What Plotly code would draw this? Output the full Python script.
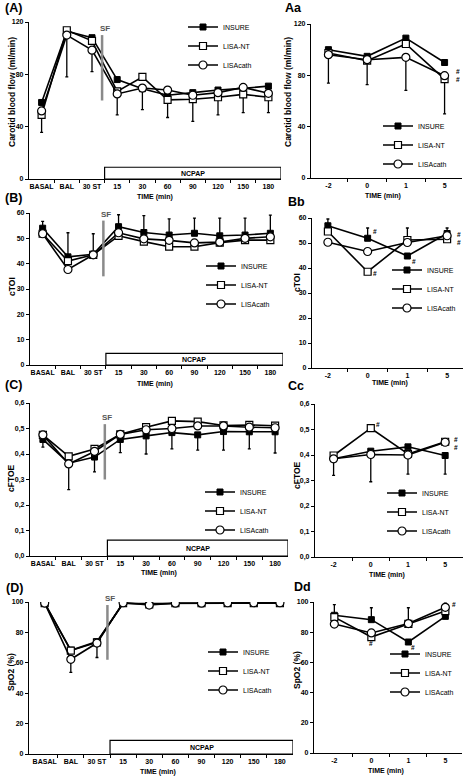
import plotly.graph_objects as go

# ---------------- data ----------------
left_cats = ["BASAL", "BAL", "30 ST", "15", "30", "60", "90", "120", "150", "180"]
right_cats = ["-2", "0", "1", "5"]
series_names = ["INSURE", "LISA-NT", "LISAcath"]

# (A) Carotid blood flow (ml/min)
a_insure = [58.5, 113, 108, 76, 69, 64, 66, 68, 69.3, 71]
a_lisant = [49, 113.7, 105.6, 67, 78, 60.5, 61, 62.5, 64.7, 62.5]
a_lisacath = [52, 110, 98.5, 65, 69.5, 68, 64, 66, 70, 65.5]
a_err_low = [35.6, 78, 82, 49, 53, 47, 44, 49, 50.7, 50.7]

# (Aa)
aa_insure = [100, 94.8, 109, 90]
aa_lisant = [97.4, 91.4, 104.4, 77]
aa_lisacath = [96.1, 92.2, 94, 79.7]
aa_err_low = [74, 72.7, 68.3, 50]

# (B) cTOI
b_insure = [54, 42.7, 43.7, 54.6, 52.3, 51.3, 52, 51, 51.3, 52]
b_lisant = [51.8, 41, 43.5, 51, 48.7, 46.7, 46.7, 48.3, 49.3, 49.3]
b_lisacath = [51.8, 37.7, 43.5, 52.2, 49.8, 49.2, 48.2, 48.5, 50, 50.6]
b_err_high = [56.7, 52.2, 51.8, 59.3, 59, 57.7, 58, 58, 58, 59.2]

# (Bb)
bb_insure = [56.9, 51.9, 44.8, 53.8]
bb_lisant = [54.6, 38.5, 51.2, 51.5]
bb_lisacath = [50.3, 46.6, 50.2, 52.9]
bb_err_high = [59.6, 56, 56, 56]

# (C) cFTOE
c_insure = [0.457, 0.364, 0.388, 0.457, 0.471, 0.484, 0.475, 0.488, 0.487, 0.487]
c_lisant = [0.475, 0.391, 0.42, 0.477, 0.505, 0.53, 0.527, 0.512, 0.514, 0.511]
c_lisacath = [0.475, 0.361, 0.41, 0.477, 0.495, 0.50, 0.51, 0.51, 0.505, 0.503]
c_err_low = [0.427, 0.26, 0.33, 0.405, 0.40, 0.42, 0.415, 0.415, 0.42, 0.404]

# (Cc)
cc_insure = [0.385, 0.415, 0.432, 0.398]
cc_lisant = [0.398, 0.505, 0.404, 0.452]
cc_lisacath = [0.385, 0.402, 0.40, 0.45]
cc_err_low = [0.32, 0.295, 0.325, 0.325]

# (D) SpO2 (%)
d_insure = [99.3, 68.3, 74, 99, 99, 99.2, 99.2, 99.2, 99.2, 99.2]
d_lisant = [99.3, 68, 73.5, 99.3, 98.5, 99.2, 99.2, 99.2, 99.2, 99.2]
d_lisacath = [99.3, 62.3, 73, 99.5, 98, 99.2, 99.2, 99.5, 99.5, 99.5]
d_err_low = [99.3, 53.7, 63.5, 98, 96, 99.2, 99.2, 99.2, 99.2, 99.2]

# (Dd)
dd_insure = [91.2, 88.3, 73.5, 90.5]
dd_lisant = [90, 76.8, 85.5, 94]
dd_lisacath = [85.4, 79.5, 85.7, 96.5]
dd_err_high = [98.2, 96.2, 96.2, 99.3]

# ---------------- layout helpers ----------------
W, H = 468, 776
FONT = "Liberation Sans"


def fx(p):
    return p / W


def fy(p):
    return 1 - p / H


styles = [
    dict(symbol="square", size=6, color="black", line=dict(color="black", width=1)),
    dict(symbol="square", size=7, color="white", line=dict(color="black", width=1.2)),
    dict(symbol="circle", size=8, color="white", line=dict(color="black", width=1.2)),
]

panels = [
    dict(n=1, cats=left_cats, data=[a_insure, a_lisant, a_lisacath], err=a_err_low, down=True,
         xd=(29, 281), yd=(22, 179), yr=(0, 120), dt=40, fmt="d", xr=(-0.5, 9.5),
         ytitle="Carotid blood flow (ml/min)", yt=(12, 92), tt=(155, 197),
         leg=(183, 46), lab="(A)", labp=(13, 8), box=9, sf=(60, 110)),
    dict(n=2, cats=right_cats, data=[aa_insure, aa_lisant, aa_lisacath], err=aa_err_low, down=True,
         xd=(311, 462), yd=(24, 178), yr=(0, 120), dt=40, fmt="d", xr=(-0.45, 3.45),
         ytitle="Carotid blood flow (ml/min)", yt=(288, 92), tt=(383, 196),
         leg=(378, 145), lab="Aa", labp=(293, 8), box=None),
    dict(n=3, cats=left_cats, data=[b_insure, b_lisant, b_lisacath], err=b_err_high, down=False,
         xd=(30, 283), yd=(213, 365), yr=(0, 60), dt=10, fmt="d", xr=(-0.5, 9.5),
         ytitle="cTOI", yt=(12, 287), tt=(155, 384),
         leg=(201, 285), lab="(B)", labp=(13, 198), box=4.6, sf=(35, 57)),
    dict(n=4, cats=right_cats, data=[bb_insure, bb_lisant, bb_lisacath], err=bb_err_high, down=False,
         xd=(312, 463), yd=(218, 368), yr=(0, 60), dt=10, fmt="d", xr=(-0.4, 3.4),
         ytitle="cTOI", yt=(297, 283), tt=(390, 383),
         leg=(387, 289), lab="Bb", labp=(296, 202), box=None),
    dict(n=5, cats=left_cats, data=[c_insure, c_lisant, c_lisacath], err=c_err_low, down=True,
         xd=(30, 288), yd=(403, 556), yr=(0, 0.6), dt=0.1, fmt=".1f", xr=(-0.5, 9.5),
         ytitle="cFTOE", yt=(11, 478), tt=(159, 573),
         leg=(200, 511), lab="(C)", labp=(13, 385), box=0.062, sf=(0.30, 0.517)),
    dict(n=6, cats=right_cats, data=[cc_insure, cc_lisant, cc_lisacath], err=cc_err_low, down=True,
         xd=(315, 463), yd=(404, 557), yr=(0, 0.6), dt=0.1, fmt=".1f", xr=(-0.5, 3.48),
         ytitle="cFTOE", yt=(297, 475), tt=(387, 575),
         leg=(382, 512), lab="Cc", labp=(296, 386), box=None),
    dict(n=7, cats=left_cats, data=[d_insure, d_lisant, d_lisacath], err=d_err_low, down=True,
         xd=(29, 293), yd=(602, 754), yr=(0, 100), dt=20, fmt="d", xr=(-0.6, 9.5),
         ytitle="SpO2 (%)", yt=(11, 672), tt=(158, 772),
         leg=(203, 671), lab="(D)", labp=(14, 588), box=9, sf=(62, 98)),
    dict(n=8, cats=right_cats, data=[dd_insure, dd_lisant, dd_lisacath], err=dd_err_high, down=False,
         xd=(314, 462), yd=(602, 753), yr=(0, 100), dt=20, fmt="d", xr=(-0.55, 3.45),
         ytitle="SpO2 (%)", yt=(297, 670), tt=(386, 771),
         leg=(385, 673), lab="Dd", labp=(302, 587), box=None),
]

# significance marks: (panel, category index, y, text, xshift, yshift)
hash_marks = [
    (2, 3, 80, "#<br>#", 13, 0),
    (4, 1, 54.5, "#", 7, 0), (4, 1, 38, "#", 7, 0), (4, 2, 42.5, "#", 7, 0),
    (4, 3, 52, "#<br>#", 12, 0),
    (6, 1, 0.52, "#", 7, 0), (6, 3, 0.445, "#<br>#", 11, 0),
    (8, 1, 72.5, "#", 0, 0), (8, 2, 70, "#", 5, 0), (8, 3, 98.5, "#", 9, 0),
]

fig = go.Figure()
layout = dict(width=W, height=H, margin=dict(l=0, r=0, t=0, b=0, autoexpand=False),
              paper_bgcolor="white", plot_bgcolor="white",
              font=dict(family=FONT, color="black", size=7),
              separators=",.", showlegend=True)
shapes, annots = [], []
bold = dict(family=FONT, size=7, color="black", weight="bold")


def paper_text(x, y, text, size, angle=0, color="black"):
    return dict(x=fx(x), y=fy(y), xref="paper", yref="paper", text=text,
                textangle=angle, showarrow=False, xanchor="center", yanchor="middle",
                font=dict(family=FONT, size=size, color=color, weight="bold"))


for p in panels:
    n = p["n"]
    xa = "x" if n == 1 else f"x{n}"
    ya = "y" if n == 1 else f"y{n}"
    leg = "legend" if n == 1 else f"legend{n}"
    xs = list(range(len(p["cats"])))

    # one-sided error bars, drawn first so lines/markers sit on top
    if p["down"]:
        base = [min(v) for v in zip(*p["data"])]
        err = dict(type="data", symmetric=False, array=[0] * len(xs),
                   arrayminus=[b - e for b, e in zip(base, p["err"])],
                   color="black", thickness=1.3, width=1.5)
    else:
        base = [max(v) for v in zip(*p["data"])]
        err = dict(type="data", symmetric=False, arrayminus=[0] * len(xs),
                   array=[e - b for b, e in zip(base, p["err"])],
                   color="black", thickness=1.3, width=1.5)
    fig.add_trace(go.Scatter(x=xs, y=base, mode="markers", xaxis=xa, yaxis=ya,
                             marker=dict(size=1, color="rgba(0,0,0,0)"),
                             error_y=err, showlegend=False, hoverinfo="skip"))

    for name, vals, st in zip(series_names, p["data"], styles):
        fig.add_trace(go.Scatter(x=xs, y=vals, mode="lines+markers", name=name,
                                 xaxis=xa, yaxis=ya, legend=leg,
                                 line=dict(color="black", width=1.6),
                                 marker=st))

    sfx = "" if n == 1 else str(n)
    layout["xaxis" + sfx] = dict(
        domain=[fx(p["xd"][0]), fx(p["xd"][1])], anchor=ya, range=list(p["xr"]),
        tickmode="array", tickvals=xs, ticktext=p["cats"], ticks="",
        showline=True, linecolor="black", linewidth=1.2, showgrid=False, zeroline=False,
        tickfont=bold,
        minor=dict(tickmode="array", tickvals=[i + 0.5 for i in xs[:-1]],
                   ticks="outside", ticklen=3, tickcolor="black", tickwidth=1, showgrid=False),
    )
    layout["yaxis" + sfx] = dict(
        domain=[fy(p["yd"][1]), fy(p["yd"][0])], anchor=xa, range=list(p["yr"]),
        tickmode="linear", tick0=0, dtick=p["dt"], tickformat=p["fmt"],
        ticks="outside", ticklen=3, tickcolor="black", tickwidth=1,
        showline=True, linecolor="black", linewidth=1.2, showgrid=False, zeroline=False,
        tickfont=bold,
    )
    layout[leg] = dict(x=fx(p["leg"][0]), y=fy(p["leg"][1]), xanchor="left", yanchor="middle",
                       bgcolor="rgba(0,0,0,0)", borderwidth=0,
                       font=dict(family=FONT, size=7, color="black"),
                       itemwidth=30, tracegroupgap=0)

    # axis titles and panel label
    annots.append(paper_text(p["yt"][0], p["yt"][1], p["ytitle"], 8.5, angle=-90))
    annots.append(paper_text(p["tt"][0], p["tt"][1], "TIME (min)", 7))
    annots.append(paper_text(p["labp"][0], p["labp"][1], p["lab"], 12.5))

    if p["box"] is not None:
        shapes.append(dict(type="rect", xref=xa, yref=ya, x0=2.5, x1=p["xr"][1],
                           y0=0, y1=p["box"], line=dict(color="black", width=1.2),
                           fillcolor="white", layer="above"))
        annots.append(dict(x=6, y=p["box"] / 2, xref=xa, yref=ya, text="NCPAP",
                           showarrow=False, xanchor="center", yanchor="middle",
                           font=dict(family=FONT, size=7, color="black", weight="bold")))
        shapes.append(dict(type="line", xref=xa, yref=ya, x0=2.4, x1=2.4,
                           y0=p["sf"][0], y1=p["sf"][1], line=dict(color="#8a8a8a", width=2.5)))
        annots.append(dict(x=2.5, y=p["sf"][1], xref=xa, yref=ya, text="SF", showarrow=False,
                           xanchor="center", yanchor="bottom",
                           font=dict(family=FONT, size=8, color="#555555", weight="bold")))

for (n, ci, yv, txt, xs_, ys_) in hash_marks:
    xa = "x" if n == 1 else f"x{n}"
    ya = "y" if n == 1 else f"y{n}"
    annots.append(dict(x=ci, y=yv, xref=xa, yref=ya, text=txt, showarrow=False,
                       xshift=xs_, yshift=ys_, xanchor="center", yanchor="middle",
                       font=dict(family=FONT, size=6.5, color="black", weight="bold")))

layout["shapes"] = shapes
layout["annotations"] = annots
fig.update_layout(**layout)
fig.write_html("out.html", config={"displayModeBar": False},
               post_script="document.body.style.margin='0';document.body.style.overflow='hidden';")
